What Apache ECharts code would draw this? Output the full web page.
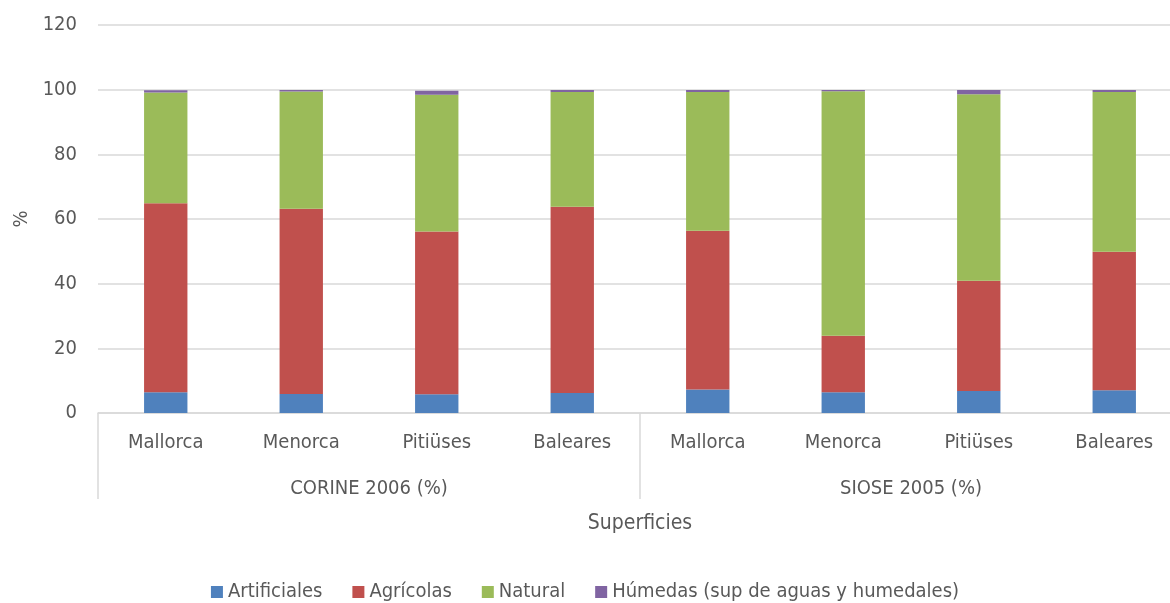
<!DOCTYPE html>
<html>
<head>
<meta charset="utf-8">
<script src="https://cdn.jsdelivr.net/npm/echarts@6/dist/echarts.min.js"></script>
<style>
  html, body { margin: 0; padding: 0; background: #fff; }
  #chart { width: 1170px; height: 603px; }
</style>
</head>
<body>
<div id="chart"></div>
<script>
// Land cover shares (%) by island, from two inventories
const categories = ['Mallorca', 'Menorca', 'Pitiüses', 'Baleares', 'Mallorca', 'Menorca', 'Pitiüses', 'Baleares'];
const groups = ['CORINE 2006 (%)', 'SIOSE 2005 (%)'];
const artificiales = [6.4, 5.9, 5.8, 6.2, 7.3, 6.4, 6.8, 7.0];
const agricolas    = [58.5, 57.3, 50.3, 57.6, 49.1, 17.5, 34.1, 42.9];
const natural      = [34.2, 36.2, 42.3, 35.5, 42.9, 75.6, 57.7, 49.4];
const humedas      = [0.7, 0.5, 1.3, 0.6, 0.6, 0.4, 1.3, 0.6];
const yTicks = { min: 0, max: 120, interval: 20 };

const FONT = '"Liberation Sans Narrow", "DejaVu Sans Condensed", "Liberation Sans", sans-serif';
const TXT = '#595959';
const GRIDC = '#d9d9d9';

const chart = echarts.init(document.getElementById('chart'), null, { renderer: 'canvas' });

function bar(name, data, color) {
  return {
    name, type: 'bar', stack: 'total', data,
    xAxisIndex: 0, yAxisIndex: 0,
    barWidth: '32%',
    itemStyle: { color },
    emphasis: { disabled: true }
  };
}

chart.setOption({
  animation: false,
  textStyle: { fontFamily: FONT },
  grid: { left: 98, top: 25, width: 1084, height: 388, containLabel: false, outerBoundsMode: 'none' },
  legend: {
    top: 577,
    left: 'center',
    itemWidth: 12, itemHeight: 12, itemGap: 30,
    icon: 'rect',
    textStyle: { fontFamily: FONT, fontSize: 20, color: TXT },
    data: ['Artificiales', 'Agrícolas', 'Natural', 'Húmedas (sup de aguas y humedales)']
  },
  xAxis: [
    {
      type: 'category',
      data: categories,
      position: 'bottom',
      axisLine: { show: true, lineStyle: { color: GRIDC, width: 1.5 } },
      axisTick: { show: false },
      axisLabel: { color: TXT, fontSize: 20, fontFamily: FONT, margin: 20, interval: 0 },
      name: 'Superficies',
      nameLocation: 'middle',
      nameGap: 100,
      nameTextStyle: { color: TXT, fontSize: 21, fontFamily: FONT }
    },
    {
      type: 'category',
      data: groups,
      position: 'bottom',
      gridIndex: 0,
      axisLine: { show: false },
      axisTick: { show: true, length: 86, alignWithLabel: false, lineStyle: { color: GRIDC, width: 1.5 } },
      axisLabel: { color: TXT, fontSize: 20, fontFamily: FONT, margin: 66, interval: 0 },
      splitLine: { show: false }
    }
  ],
  yAxis: {
    type: 'value',
    min: yTicks.min, max: yTicks.max, interval: yTicks.interval,
    axisLine: { show: false },
    axisTick: { show: false },
    axisLabel: { color: TXT, fontSize: 20, fontFamily: FONT, margin: 21 },
    splitLine: { lineStyle: { color: GRIDC, width: 1.5 } },
    name: '%',
    nameLocation: 'middle',
    nameRotate: 90,
    nameGap: 66,
    nameTextStyle: { color: TXT, fontSize: 20, fontFamily: FONT }
  },
  series: [
    bar('Artificiales', artificiales, '#4f81bd'),
    bar('Agrícolas', agricolas, '#c0504d'),
    bar('Natural', natural, '#9bbb59'),
    bar('Húmedas (sup de aguas y humedales)', humedas, '#8064a2')
  ]
});
</script>
</body>
</html>
